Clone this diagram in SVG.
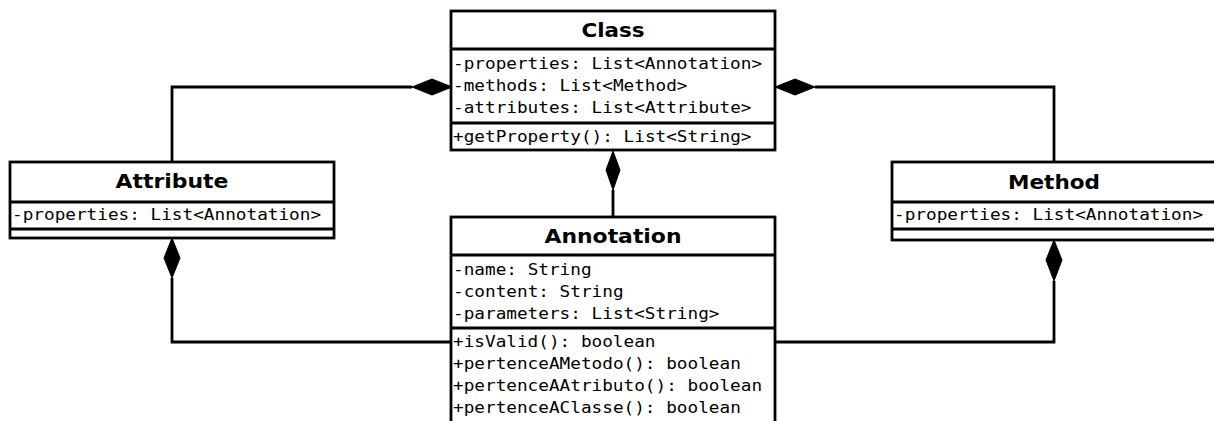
<svg xmlns="http://www.w3.org/2000/svg" width="1214" height="421" viewBox="0 0 1214 421">
<style>
.box{fill:#fff;stroke:#000;stroke-width:2.8}
.sep{stroke:#000;stroke-width:2.8;fill:none}
.title{font-family:"DejaVu Sans",sans-serif;font-weight:bold;font-size:19.5px;text-anchor:middle;fill:#000}
.mono{font-family:"DejaVu Sans Mono",monospace;font-size:16.5px;fill:#000}
.conn{stroke:#000;stroke-width:2.8;fill:none}
.dia{fill:#000;stroke:#000;stroke-width:1}
</style>
<rect width="1214" height="421" fill="#fff"/>
<g id="connectors">
<polyline class="conn" points="172,162 172,87 412,87"/>
<polyline class="conn" points="1054,162 1054,87 815,87"/>
<polyline class="conn" points="613,190 613,217"/>
<polyline class="conn" points="451,342 172,342 172,278"/>
<polyline class="conn" points="775,342 1054,342 1054,281"/>
<polygon class="dia" points="452,87 432,79 412,87 432,95"/>
<polygon class="dia" points="775,87 795,79 815,87 795,95"/>
<polygon class="dia" points="613,151 620,170 613,190 606,170"/>
<polygon class="dia" points="172,238 180,258 172,278 164,258"/>
<polygon class="dia" points="1054,240 1062,260 1054,281 1046,260"/>
</g>
<g id="class">
<rect class="box" x="451" y="11" width="324" height="139"/>
<line class="sep" x1="451" y1="49" x2="775" y2="49"/>
<line class="sep" x1="451" y1="123" x2="775" y2="123"/>
<text class="title" x="613" y="37" textLength="63" lengthAdjust="spacingAndGlyphs">Class</text>
<text class="mono" x="453" y="69" textLength="309.1" lengthAdjust="spacingAndGlyphs">-properties: List&lt;Annotation&gt;</text>
<text class="mono" x="453" y="91" textLength="234.5" lengthAdjust="spacingAndGlyphs">-methods: List&lt;Method&gt;</text>
<text class="mono" x="453" y="113" textLength="298.5" lengthAdjust="spacingAndGlyphs">-attributes: List&lt;Attribute&gt;</text>
<text class="mono" x="453" y="142" textLength="298.5" lengthAdjust="spacingAndGlyphs">+getProperty(): List&lt;String&gt;</text>
</g>
<g id="attribute">
<rect class="box" x="10" y="162" width="324" height="76"/>
<line class="sep" x1="10" y1="202" x2="334" y2="202"/>
<line class="sep" x1="10" y1="229" x2="334" y2="229"/>
<text class="title" x="172" y="188" textLength="113" lengthAdjust="spacingAndGlyphs">Attribute</text>
<text class="mono" x="12" y="220" textLength="309.1" lengthAdjust="spacingAndGlyphs">-properties: List&lt;Annotation&gt;</text>
</g>
<g id="method">
<rect class="box" x="892" y="162" width="324" height="78"/>
<line class="sep" x1="892" y1="202" x2="1216" y2="202"/>
<line class="sep" x1="892" y1="229" x2="1216" y2="229"/>
<text class="title" x="1054" y="189" textLength="92" lengthAdjust="spacingAndGlyphs">Method</text>
<text class="mono" x="894" y="220" textLength="309.1" lengthAdjust="spacingAndGlyphs">-properties: List&lt;Annotation&gt;</text>
</g>
<g id="annotation">
<rect class="box" x="451" y="217" width="324" height="220"/>
<line class="sep" x1="451" y1="255" x2="775" y2="255"/>
<line class="sep" x1="451" y1="328" x2="775" y2="328"/>
<text class="title" x="613" y="243" textLength="137" lengthAdjust="spacingAndGlyphs">Annotation</text>
<text class="mono" x="453" y="275" textLength="138.6" lengthAdjust="spacingAndGlyphs">-name: String</text>
<text class="mono" x="453" y="297" textLength="170.6" lengthAdjust="spacingAndGlyphs">-content: String</text>
<text class="mono" x="453" y="319" textLength="266.5" lengthAdjust="spacingAndGlyphs">-parameters: List&lt;String&gt;</text>
<text class="mono" x="453" y="347" textLength="202.5" lengthAdjust="spacingAndGlyphs">+isValid(): boolean</text>
<text class="mono" x="453" y="369" textLength="287.8" lengthAdjust="spacingAndGlyphs">+pertenceAMetodo(): boolean</text>
<text class="mono" x="453" y="391" textLength="309.1" lengthAdjust="spacingAndGlyphs">+pertenceAAtributo(): boolean</text>
<text class="mono" x="453" y="413" textLength="287.8" lengthAdjust="spacingAndGlyphs">+pertenceAClasse(): boolean</text>
</g>
</svg>
